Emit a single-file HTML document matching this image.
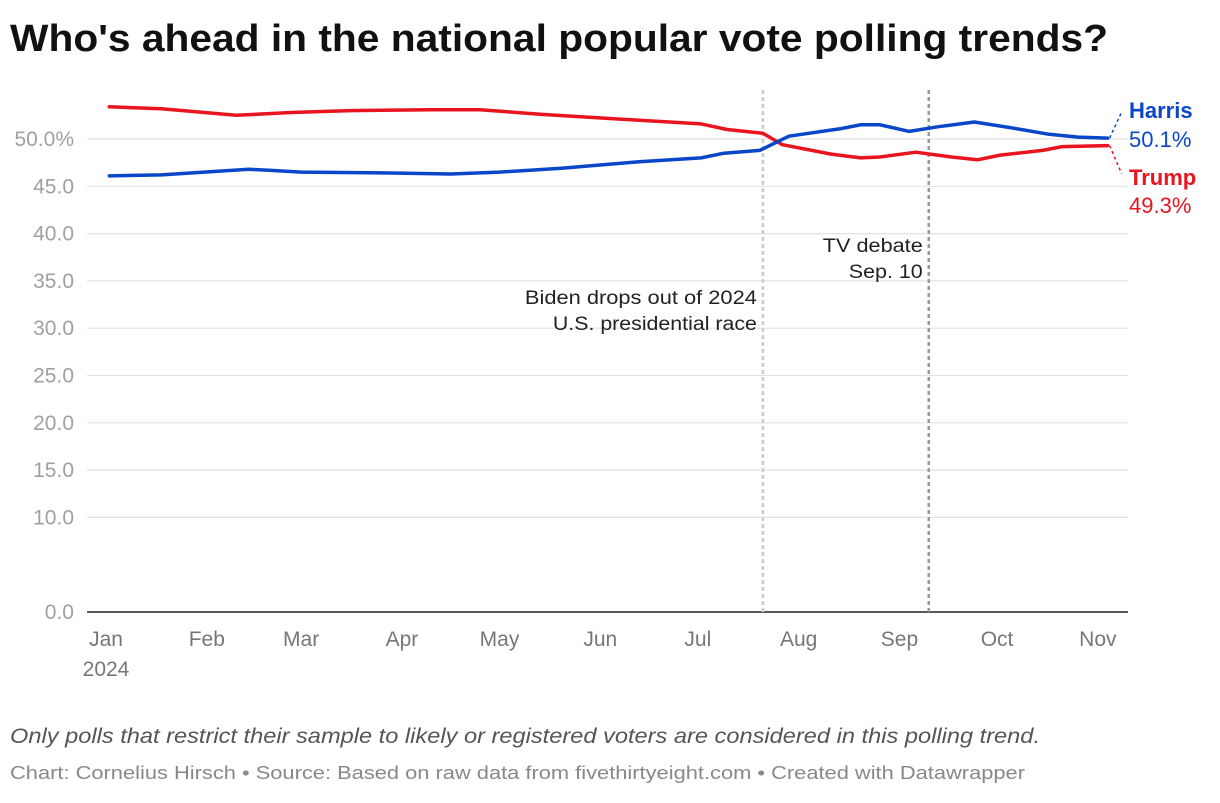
<!DOCTYPE html>
<html><head><meta charset="utf-8">
<style>
body{margin:0;background:#fff;width:1220px;height:798px;overflow:hidden;font-family:"Liberation Sans",Arial,sans-serif;}
svg text{font-family:"Liberation Sans",Arial,sans-serif;}
</style></head>
<body>
<svg id="chart" width="1220" height="798" xmlns="http://www.w3.org/2000/svg">
<text x="10" y="51" font-size="38" font-weight="bold" fill="#111" textLength="1098" lengthAdjust="spacingAndGlyphs">Who's ahead in the national popular vote polling trends?</text>
<g id="grid"></g>
<g id="xaxis"></g>
<g id="marks"></g>
<text x="10" y="743" font-size="21" font-style="italic" fill="#555" textLength="1030" lengthAdjust="spacingAndGlyphs">Only polls that restrict their sample to likely or registered voters are considered in this polling trend.</text>
<text x="10" y="779" font-size="18" fill="#888" textLength="1015" lengthAdjust="spacingAndGlyphs">Chart: Cornelius Hirsch • Source: Based on raw data from fivethirtyeight.com • Created with Datawrapper</text>
</svg>
<script>
const yTicks=[0,10,15,20,25,30,35,40,45,50];
const monthLabels=["Jan","Feb","Mar","Apr","May","Jun","Jul","Aug","Sep","Oct","Nov"];
const monthDays=[0,31,60,91,121,152,182,213,244,274,305];
const trumpDays=[1,17,40,57,75,100,115,134,158,183,191,202,208,223,232,238,249,260,268,275,288,294,308];
const trumpVals=[53.4,53.2,52.5,52.8,53.0,53.1,53.1,52.6,52.1,51.6,51.0,50.6,49.4,48.4,48.0,48.1,48.6,48.1,47.8,48.3,48.8,49.2,49.3];
const harrisDays=[1,17,44,50,60,90,106,121,140,164,183,190,201,210,226,232,238,247,256,267,278,290,299,308];
const harrisVals=[46.1,46.2,46.8,46.7,46.5,46.4,46.3,46.5,46.9,47.6,48.0,48.5,48.8,50.3,51.1,51.5,51.5,50.8,51.3,51.8,51.2,50.5,50.2,50.1];
const events=[{d:202,c:"#ccc",l:["Biden drops out of 2024","U.S. presidential race"],w:[232,204],y:304},{d:253,c:"#999",l:["TV debate","Sep. 10"],w:[100,74],y:252}];

const NS="http://www.w3.org/2000/svg";
const X=d=>106+d*3.252;
const Y=v=>612-v*9.46;
function el(tag,attrs,parent,txt){const e=document.createElementNS(NS,tag);for(const k in attrs)e.setAttribute(k,attrs[k]);if(txt!==undefined)e.textContent=txt;parent.appendChild(e);return e;}
const grid=document.getElementById('grid'),xa=document.getElementById('xaxis'),marks=document.getElementById('marks');
yTicks.forEach(v=>{
  const ln=el('line',{x1:87,x2:1128,y1:Y(v),y2:Y(v),stroke:v===0?'#222':'#e2e2e2','stroke-width':v===0?1.5:1.2},grid);
  
  
  const t=el('text',{x:74,y:Y(v)+7,'text-anchor':'end','font-size':21,fill:'#a0a0a0'},grid,v.toFixed(1)+(v===50?'%':''));
  
  
});
monthLabels.forEach((m,i)=>{
  const t=el('text',{x:X(monthDays[i]),y:646,'text-anchor':'middle','font-size':21,fill:'#777'},xa,m);
  
  
});
const yr=el('text',{x:X(0),y:676,'text-anchor':'middle','font-size':21,fill:'#777'},xa,"2024");


events.forEach((e,i)=>{
  const ln=el('line',{x1:X(e.d),x2:X(e.d),y1:90,y2:612,stroke:e.c,'stroke-width':2.5,'stroke-dasharray':'4,3'},marks);
  
  
  e.l.forEach((s,j)=>{
    const t=el('text',{x:X(e.d)-6,y:e.y+j*26,'text-anchor':'end','font-size':19,fill:'#222',textLength:e.w[j],lengthAdjust:'spacingAndGlyphs'},marks,s);
    
    
  });
});
function series(days,vals,color,name){
  const d=days.map((x,i)=>(i?'L':'M')+X(x).toFixed(1)+','+Y(vals[i]).toFixed(1)).join(' ');
  const p=el('path',{d:d,fill:'none',stroke:color,'stroke-width':3.5,'stroke-linejoin':'round','stroke-linecap':'round'},marks);
  
  
}
series(trumpDays,trumpVals,'#e8141e','trump');
series(harrisDays,harrisVals,'#0a47c8','harris');
const hx=X(harrisDays[harrisDays.length-1]),hy=Y(harrisVals[harrisVals.length-1]);
const tx=X(trumpDays[trumpDays.length-1]),ty=Y(trumpVals[trumpVals.length-1]);
const c1=el('path',{d:`M${hx+2},${hy} L${hx+14},${hy-26}`,stroke:'#0a47c8','stroke-width':1.5,'stroke-dasharray':'3,3',fill:'none'},marks);


const c2=el('path',{d:`M${tx+2},${ty} L${tx+14},${ty+28}`,stroke:'#e8141e','stroke-width':1.5,'stroke-dasharray':'3,3',fill:'none'},marks);


const l1=el('text',{x:1129,y:118,'font-size':22,'font-weight':'bold',fill:'#0a47c8'},marks,'Harris');


const v1=el('text',{x:1129,y:147,'font-size':22,fill:'#0a47c8'},marks,harrisVals[harrisVals.length-1].toFixed(1)+'%');


const l2=el('text',{x:1129,y:185,'font-size':22,'font-weight':'bold',fill:'#e8141e'},marks,'Trump');


const v2=el('text',{x:1129,y:213,'font-size':22,fill:'#e8141e'},marks,trumpVals[trumpVals.length-1].toFixed(1)+'%');


</script>
</body></html>
